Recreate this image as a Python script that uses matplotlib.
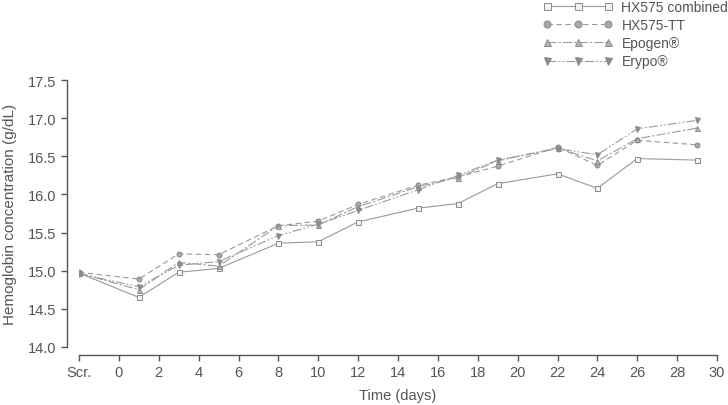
import matplotlib
matplotlib.use("Agg")
import matplotlib.pyplot as plt

plt.rcParams['font.family'] = ['Liberation Sans', 'DejaVu Sans']

# Data
days = [-2, 1, 3, 5, 8, 10, 12, 15, 17, 19, 22, 24, 26, 29]   # -2 = screening (Scr.)
hx575_combined = [14.97, 14.65, 14.98, 15.03, 15.36, 15.38, 15.64, 15.82, 15.88, 16.14, 16.27, 16.08, 16.47, 16.45]
hx575_tt = [14.98, 14.89, 15.22, 15.21, 15.59, 15.65, 15.87, 16.12, 16.23, 16.37, 16.62, 16.38, 16.71, 16.65]
epogen = [14.97, 14.75, 15.11, 15.06, 15.59, 15.60, 15.84, 16.10, 16.22, 16.44, 16.61, 16.44, 16.73, 16.87]
erypo = [14.96, 14.79, 15.07, 15.12, 15.46, 15.61, 15.79, 16.06, 16.25, 16.45, 16.60, 16.52, 16.86, 16.97]

xticks = list(range(-2, 31, 2))
xticklabels = ['Scr.'] + [str(v) for v in range(0, 31, 2)]
yticks = [14.0, 14.5, 15.0, 15.5, 16.0, 16.5, 17.0, 17.5]

W, H = 728, 406
fig = plt.figure(figsize=(W / 100, H / 100), dpi=100)
ax = fig.add_axes([79 / W, 1 - 348 / H, (717 - 79) / W, (348 - 81) / H])

line_col = '#9a9a9a'
edge_col = '#8a8a8a'
series = [
    ('HX575 combined', hx575_combined, 's', '-', '#f2f2f2'),
    ('HX575-TT', hx575_tt, 'o', (0, (5, 3)), '#a8a8a8'),
    ('Epogen\u00ae', epogen, '^', (0, (8, 2, 2, 2)), '#b5b5b5'),
    ('Erypo\u00ae', erypo, 'v', (0, (8, 2, 1.5, 2, 1.5, 2)), '#8c8c8c'),
]
for label, vals, mk, ls, fc in series:
    ax.plot(days, vals, color=line_col, lw=0.8, ls=ls, marker=mk, ms=3.6,
            mfc=fc, mec=edge_col, mew=0.7, label=label)

ax.set_xlim(-2, 30)
ax.set_ylim(14.0, 17.5)
ax.set_xticks(xticks)
ax.set_xticklabels(xticklabels)
ax.set_yticks(yticks)
ax.set_yticklabels([f'{v:.1f}' for v in yticks])

for s in ['top', 'right']:
    ax.spines[s].set_visible(False)
ax.spines['left'].set_position(('outward', 8.6))
ax.spines['bottom'].set_position(('outward', 5.8))
ax.spines['left'].set_bounds(14.0, 17.5)
ax.spines['bottom'].set_bounds(-2, 30)
for s in ['left', 'bottom']:
    ax.spines[s].set_color('#555555')
    ax.spines[s].set_linewidth(1.0)
ax.tick_params(direction='out', length=4, width=1.0, color='#555555',
               labelsize=10.5, labelcolor='#555555')

ax.set_xlabel('Time (days)', fontsize=10.5, color='#555555', labelpad=6)
ax.set_ylabel('Hemoglobin concentration (g/dL)', fontsize=11, color='#555555', labelpad=8)

leg = fig.legend(loc='upper left', bbox_to_anchor=(536 / W, 1 + 6 / H), frameon=False,
                 numpoints=3, handlelength=5.0, fontsize=10, markerscale=1.4,
                 labelspacing=0.3, handletextpad=0.65, borderpad=0)
for t in leg.get_texts():
    t.set_color('#555555')

fig.savefig('out.png', dpi=100)
